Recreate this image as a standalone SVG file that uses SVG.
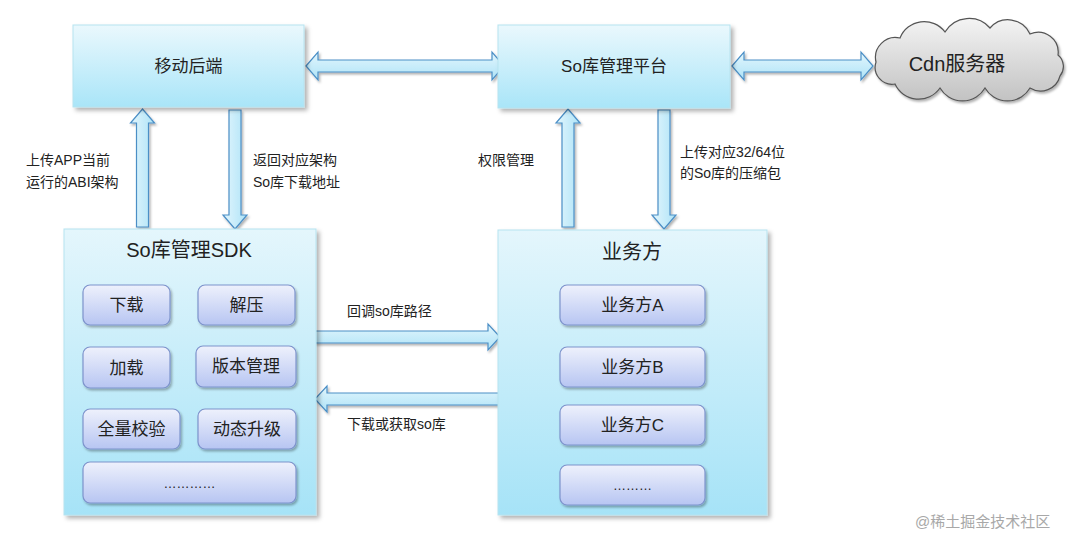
<svg xmlns="http://www.w3.org/2000/svg" width="1080" height="538" viewBox="0 0 1080 538">
<defs>
<linearGradient id="gBox" x1="0" y1="0" x2="0" y2="1"><stop offset="0" stop-color="#eaf8fd"/><stop offset="1" stop-color="#a9e5f8"/></linearGradient>
<linearGradient id="gBig" x1="0" y1="0" x2="0" y2="1"><stop offset="0" stop-color="#e4f6fc"/><stop offset="1" stop-color="#a6e3f7"/></linearGradient>
<linearGradient id="gBtn" x1="0" y1="0" x2="0" y2="1"><stop offset="0" stop-color="#eef1fc"/><stop offset="1" stop-color="#b7c5f2"/></linearGradient>
<linearGradient id="gArrH" x1="0" y1="0" x2="0" y2="1"><stop offset="0" stop-color="#e3f6fd"/><stop offset="1" stop-color="#aee3f7"/></linearGradient>
<linearGradient id="gArrV" x1="0" y1="0" x2="1" y2="0"><stop offset="0" stop-color="#e3f6fd"/><stop offset="1" stop-color="#aee3f7"/></linearGradient>
<linearGradient id="gCloud" x1="0" y1="0" x2="0" y2="1"><stop offset="0" stop-color="#f4f4f4"/><stop offset="1" stop-color="#c2c2c2"/></linearGradient>
<filter id="sh" x="-10%" y="-10%" width="130%" height="130%"><feDropShadow dx="3" dy="3" stdDeviation="2" flood-color="#000" flood-opacity="0.3"/></filter>
<filter id="shs" x="-10%" y="-10%" width="130%" height="140%"><feDropShadow dx="1.5" dy="2" stdDeviation="1.2" flood-color="#000" flood-opacity="0.3"/></filter>
</defs>
<style>
text{font-family:"Liberation Sans","Noto Sans CJK SC",sans-serif;fill:#222}
.box{fill:url(#gBox);stroke:#b6e3ef;stroke-width:1;filter:url(#sh)}
.big{fill:url(#gBig);stroke:#b6e3ef;stroke-width:1;filter:url(#sh)}
.btn{fill:url(#gBtn);stroke:#7d93cc;stroke-width:1.2;filter:url(#shs)}
.ah{fill:url(#gArrH);stroke:#4b8fc6;stroke-width:1.2;filter:url(#shs)}
.av{fill:url(#gArrV);stroke:#4b8fc6;stroke-width:1.2;filter:url(#shs)}
.lbl{font-size:14px}
.t17{font-size:17px}
.t20{font-size:20px}
</style>

<g id="connectors">
<polygon class="ah" points="306,66 318,52 318,60 492,60 492,52 504,66 492,80 492,72 318,72 318,80"/>
<polygon class="ah" points="732,66 744,52 744,60 861,60 861,52 873,66 861,80 861,72 744,72 744,80"/>
<polygon class="av" points="142.5,109 154.5,123 148.5,123 148.5,227 136.5,227 136.5,123 130.5,123"/>
<polygon class="av" points="229,110 241,110 241,215 247,215 235,229 223,215 229,215"/>
<polygon class="av" points="568,109 580,123 574,123 574,227 562,227 562,123 556,123"/>
<polygon class="av" points="658,110 670,110 670,215 676,215 664,229 652,215 658,215"/>
<polygon class="ah" points="315,331 488,331 488,324 500,337 488,350 488,343 315,343"/>
<polygon class="ah" points="500,393 327,393 327,386 315,399 327,412 327,405 500,405"/>
<text class="lbl" x="26" y="165">上传APP当前</text>
<text class="lbl" x="26" y="187">运行的ABI架构</text>
<text class="lbl" x="253" y="165">返回对应架构</text>
<text class="lbl" x="253" y="187">So库下载地址</text>
<text class="lbl" x="478" y="165">权限管理</text>
<text class="lbl" x="680" y="157">上传对应32/64位</text>
<text class="lbl" x="680" y="178">的So库的压缩包</text>
<text class="lbl" x="347" y="316">回调so库路径</text>
<text class="lbl" x="347" y="429">下载或获取so库</text>
</g>

<g id="mobile-backend">
<rect class="box" x="73" y="25" width="231" height="82"/>
<text class="t17" x="188.5" y="72" text-anchor="middle">移动后端</text>
</g>

<g id="so-platform">
<rect class="box" x="498" y="25" width="232" height="83"/>
<text class="t17" x="614" y="72" text-anchor="middle">So库管理平台</text>
</g>

<g id="cdn">
<path d="M895,84 A17 17 0 0 1 876,62 A20 20 0 0 1 900,38 A26 26 0 0 1 945,32 A28 28 0 0 1 990,28 A24 24 0 0 1 1030,34 A20 20 0 0 1 1058,55 A15 15 0 0 1 1060,76 A20 20 0 0 1 1030,88 A26 26 0 0 1 985,88 A26 26 0 0 1 940,88 A26 26 0 0 1 895,84 Z" fill="url(#gCloud)" stroke="#555" stroke-width="1.2" filter="url(#shs)"/>
<text x="957" y="71" font-size="20" text-anchor="middle">Cdn服务器</text>
</g>

<g id="sdk">
<rect class="big" x="64" y="229" width="252" height="286"/>
<text class="t20" x="189" y="257" text-anchor="middle">So库管理SDK</text>
</g>
<g id="sdk-download"><rect class="btn" x="83" y="285" width="87" height="40" rx="7"/><text class="t17" x="126.5" y="311" text-anchor="middle">下载</text></g>
<g id="sdk-unzip"><rect class="btn" x="198" y="285" width="97" height="40" rx="7"/><text class="t17" x="246.5" y="311" text-anchor="middle">解压</text></g>
<g id="sdk-load"><rect class="btn" x="83" y="347" width="87" height="41" rx="7"/><text class="t17" x="126.5" y="374" text-anchor="middle">加载</text></g>
<g id="sdk-version"><rect class="btn" x="196" y="346" width="100" height="41" rx="7"/><text class="t17" x="246" y="372" text-anchor="middle">版本管理</text></g>
<g id="sdk-verify"><rect class="btn" x="83" y="409" width="97" height="40" rx="7"/><text class="t17" x="131.5" y="435" text-anchor="middle">全量校验</text></g>
<g id="sdk-upgrade"><rect class="btn" x="198" y="409" width="98" height="40" rx="7"/><text class="t17" x="247" y="435" text-anchor="middle">动态升级</text></g>
<g id="sdk-more"><rect class="btn" x="83" y="462" width="213" height="41" rx="7"/><text x="189.5" y="488" font-size="13" text-anchor="middle">…………</text></g>

<g id="business">
<rect class="big" x="498" y="230" width="269" height="285"/>
<text class="t20" x="632" y="259" text-anchor="middle">业务方</text>
</g>
<g id="business-a"><rect class="btn" x="560" y="285" width="145" height="40" rx="7"/><text class="t17" x="632.5" y="311" text-anchor="middle">业务方A</text></g>
<g id="business-b"><rect class="btn" x="560" y="347" width="145" height="40" rx="7"/><text class="t17" x="632.5" y="373" text-anchor="middle">业务方B</text></g>
<g id="business-c"><rect class="btn" x="560" y="405" width="145" height="40" rx="7"/><text class="t17" x="632.5" y="431" text-anchor="middle">业务方C</text></g>
<g id="business-more"><rect class="btn" x="560" y="465" width="145" height="40" rx="7"/><text x="632.5" y="490" font-size="13" text-anchor="middle">………</text></g>

<text x="915" y="527" font-size="15" style="fill:#a8a8a8">@稀土掘金技术社区</text>
</svg>
